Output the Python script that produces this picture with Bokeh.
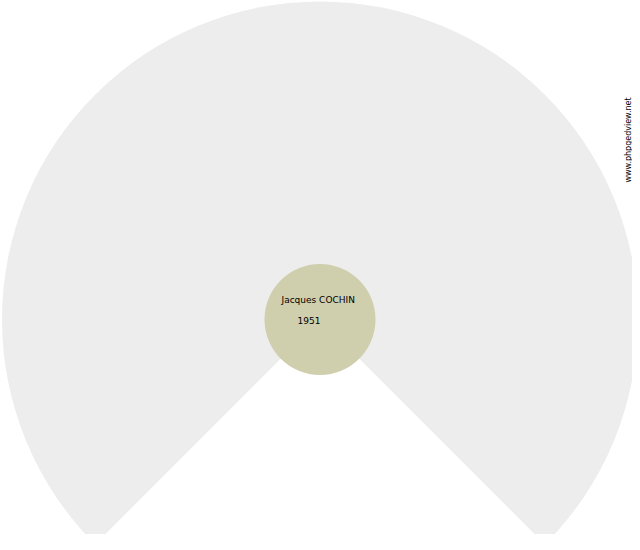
import math
from bokeh.plotting import figure
from bokeh.models import Range1d
from bokeh.core.properties import value
from bokeh.embed import file_html
from bokeh.resources import INLINE

# ---- data ----
person_name = ["Jacques COCHIN"]
person_year = ["1951"]
fan_span_deg = [270]          # fan chart opening angle
fan_colors = ["#EDEDED"]      # unknown ancestors
center_color = ["#CFCFAD"]
credit = ["www.phpgedview.net"]

W, H = 632, 534

def px(x):
    return x

def py(y):
    return H - y

p = figure(width=W, height=H, output_backend="svg", toolbar_location=None,
           x_range=Range1d(0, W), y_range=Range1d(0, H), min_border=0)
p.axis.visible = False
p.grid.visible = False
p.outline_line_color = None
p.background_fill_color = "white"
p.border_fill_color = "white"

cx, cy = px(319.5), py(319)
span = math.radians(fan_span_deg[0])
# gap centred at the bottom: wedge from -45deg anticlockwise to 225deg
start_angle = -math.pi / 2 + (2 * math.pi - span) / 2
end_angle = start_angle + span

p.wedge(x=[cx], y=[cy], radius=318, start_angle=start_angle, end_angle=end_angle,
        direction="anticlock", fill_color=fan_colors[0], line_color=None)

p.circle(x=[cx], y=[cy], radius=55.5, fill_color=center_color[0], line_color=None)

p.text(x=[px(281)], y=[py(299)], text=person_name, text_font=value("DejaVu Sans"),
       text_font_size="9px", text_color="black", text_align="left",
       text_baseline="alphabetic")
p.text(x=[px(297)], y=[py(320)], text=person_year, text_font=value("DejaVu Sans"),
       text_font_size="9px", text_color="black", text_align="left",
       text_baseline="alphabetic")

p.text(x=[px(628)], y=[py(182)], text=credit, text_font=value("DejaVu Sans"),
       text_font_size="8px", text_color="black", text_align="left",
       text_baseline="alphabetic", angle=math.pi / 2)

open("out.html", "w").write(file_html(p, INLINE))
